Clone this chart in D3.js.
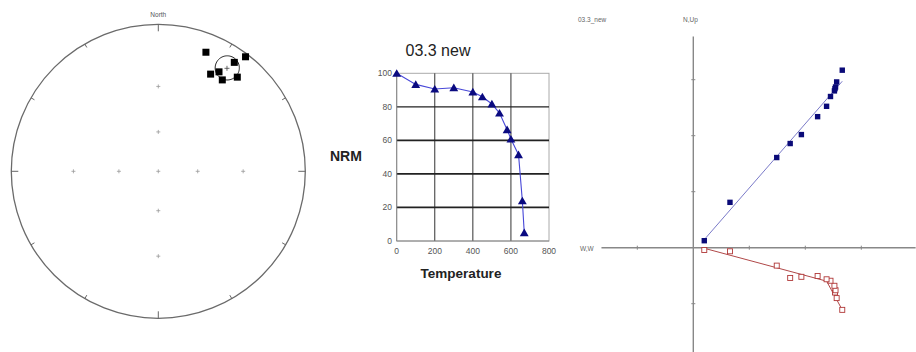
<!DOCTYPE html>
<html>
<head>
<meta charset="utf-8">
<script src="https://cdn.jsdelivr.net/npm/d3@7"></script>
<style>
  body { margin: 0; background: #fff; }
  svg { display: block; font-family: "Liberation Sans", Arial, sans-serif; }
</style>
</head>
<body>
<svg id="chart" width="916" height="352"></svg>
<script>
// stereonet: site directions (lower hemisphere, equal-angle)
var siteDec = [21.8, 37.3, 34.9, 28.3, 31.4, 35.0, 40.0];
var siteInc = [7.8, 1.2, 5.8, 16.2, 13.2, 15.6, 10.2];
var meanDec = 33.7, meanInc = 9.8, alpha95 = 5.5;

// demagnetisation steps
var steps = [0, 100, 200, 300, 400, 450, 500, 540, 580, 600, 640, 660, 670];
var nrm = [100, 93.4, 90.6, 91.4, 88.9, 86, 81.7, 76.3, 66.4, 60.8, 51.5, 24, 5];
var tempTicks = [0, 200, 400, 600, 800];
var nrmTicks = [0, 20, 40, 60, 80, 100];

// zijderveld components (same units as axis ticks)
var north = [2.66, 2.56, 2.53, 2.54, 2.52, 2.45, 2.38, 2.22, 1.93, 1.73, 1.49, 0.655, 0.196];
var up = [3.17, 2.96, 2.84, 2.87, 2.80, 2.70, 2.525, 2.34, 2.02, 1.86, 1.61, 0.81, 0.125];
var west = [1.11, 0.90, 0.80, 0.76, 0.68, 0.59, 0.564, 0.505, 0.52, 0.54, 0.32, 0.064, 0.041];
var zTicks = [-1, 1, 2, 3];

var svg = d3.select("#chart");
var rad = Math.PI / 180;

// ---------- stereonet ----------
var cx = 158.3, cy = 171.3, R = 147;
var rScale = d3.scaleLinear().domain([0, 1]).range([0, R]);

function proj(dec, inc) {
  var r = rScale(Math.tan((90 - inc) / 2 * rad));
  return [cx + r * Math.sin(dec * rad), cy - r * Math.cos(dec * rad)];
}

var net = svg.append("g");
net.append("circle")
  .attr("cx", cx).attr("cy", cy).attr("r", R)
  .attr("fill", "none").attr("stroke", "#6a6a6a").attr("stroke-width", 1.3);

d3.range(0, 360, 30).forEach(function (az) {
  var len = az % 90 == 0 ? 7 : 4;
  var a = proj(az, 0), b = [cx + (R - len) * Math.sin(az * rad), cy - (R - len) * Math.cos(az * rad)];
  net.append("line")
    .attr("x1", a[0]).attr("y1", a[1]).attr("x2", b[0]).attr("y2", b[1])
    .attr("stroke", "#666").attr("stroke-width", 1);
});

var crossPts = [[0, 90]];
[0, 90, 180, 270].forEach(function (az) { crossPts.push([az, 30]); crossPts.push([az, 60]); });
crossPts.forEach(function (d) {
  var p = proj(d[0], d[1]);
  net.append("path")
    .attr("d", "M" + (p[0] - 2) + "," + p[1] + "h4M" + p[0] + "," + (p[1] - 2) + "v4")
    .attr("stroke", "#999").attr("stroke-width", 0.8);
});

net.append("text")
  .attr("x", cx).attr("y", 17)
  .attr("text-anchor", "middle")
  .attr("font-size", 6.5).attr("fill", "#555")
  .text("North");

// alpha95 small circle around the mean
function toVec(dec, inc) {
  return [Math.cos(inc * rad) * Math.cos(dec * rad), Math.cos(inc * rad) * Math.sin(dec * rad), Math.sin(inc * rad)];
}
var m = toVec(meanDec, meanInc);
var u = [-Math.sin(meanInc * rad) * Math.cos(meanDec * rad), -Math.sin(meanInc * rad) * Math.sin(meanDec * rad), Math.cos(meanInc * rad)];
var v = [-Math.sin(meanDec * rad), Math.cos(meanDec * rad), 0];
var ring = d3.range(0, 361, 5).map(function (t) {
  var c = Math.cos(alpha95 * rad), s = Math.sin(alpha95 * rad);
  var p = [0, 1, 2].map(function (i) { return c * m[i] + s * (Math.cos(t * rad) * u[i] + Math.sin(t * rad) * v[i]); });
  var inc = Math.asin(p[2]) / rad, dec = Math.atan2(p[1], p[0]) / rad;
  return proj(dec, inc);
});
net.append("path")
  .attr("d", d3.line()(ring))
  .attr("fill", "none").attr("stroke", "#222").attr("stroke-width", 1);
var mp = proj(meanDec, meanInc);
net.append("path")
  .attr("d", "M" + (mp[0] - 2.5) + "," + mp[1] + "h5M" + mp[0] + "," + (mp[1] - 2.5) + "v5")
  .attr("stroke", "#444").attr("stroke-width", 0.8);

net.selectAll(".site")
  .data(siteDec.map(function (d, i) { return proj(d, siteInc[i]); }))
  .enter().append("rect")
  .attr("x", function (d) { return d[0] - 3.5; })
  .attr("y", function (d) { return d[1] - 3.5; })
  .attr("width", 7).attr("height", 7)
  .attr("fill", "#000");

// ---------- NRM decay ----------
var x = d3.scaleLinear().domain([0, 800]).range([396.7, 549]);
var y = d3.scaleLinear().domain([0, 100]).range([241, 73.3]);
var dg = svg.append("g");

dg.append("rect")
  .attr("x", x(0)).attr("y", y(100))
  .attr("width", x(800) - x(0)).attr("height", y(0) - y(100))
  .attr("fill", "none").attr("stroke", "#aaa").attr("stroke-width", 1);

[200, 400, 600].forEach(function (t) {
  dg.append("line")
    .attr("x1", x(t)).attr("x2", x(t)).attr("y1", y(0)).attr("y2", y(100))
    .attr("stroke", "#333").attr("stroke-width", 1);
});
[20, 40, 60, 80].forEach(function (n) {
  dg.append("line")
    .attr("x1", x(0)).attr("x2", x(800)).attr("y1", y(n)).attr("y2", y(n))
    .attr("stroke", "#222").attr("stroke-width", n == 80 ? 1.2 : 1.8);
});
dg.append("line")
  .attr("x1", x(0)).attr("x2", x(0)).attr("y1", y(0)).attr("y2", y(100))
  .attr("stroke", "#888");
dg.append("line")
  .attr("x1", x(0)).attr("x2", x(800)).attr("y1", y(0)).attr("y2", y(0))
  .attr("stroke", "#888");

dg.selectAll(".xt")
  .data(tempTicks)
  .enter().append("text")
  .attr("x", function (d) { return x(d); })
  .attr("y", 254)
  .attr("text-anchor", "middle")
  .attr("font-size", 8.5).attr("fill", "#555")
  .text(function (d) { return d; });

dg.selectAll(".yt")
  .data(nrmTicks)
  .enter().append("text")
  .attr("x", 392)
  .attr("y", function (d) { return y(d) + 3; })
  .attr("text-anchor", "end")
  .attr("font-size", 8.5).attr("fill", "#555")
  .text(function (d) { return d; });

dg.append("path")
  .attr("d", d3.line()
    .x(function (d, i) { return x(d); })
    .y(function (d, i) { return y(nrm[i]); })(steps))
  .attr("fill", "none").attr("stroke", "#4848d8").attr("stroke-width", 1.1);

dg.selectAll(".tri")
  .data(steps)
  .enter().append("path")
  .attr("transform", function (d, i) { return "translate(" + x(d) + "," + (y(nrm[i]) + 1) + ")"; })
  .attr("d", d3.symbol().type(d3.symbolTriangle).size(34))
  .attr("fill", "#0a0a80");

dg.append("text")
  .attr("x", 438).attr("y", 56)
  .attr("text-anchor", "middle")
  .attr("font-size", 16).attr("fill", "#222")
  .text("03.3 new");

dg.append("text")
  .attr("x", 330).attr("y", 161)
  .attr("font-size", 14).attr("font-weight", "bold").attr("fill", "#222")
  .text("NRM");

dg.append("text")
  .attr("x", 461).attr("y", 278)
  .attr("text-anchor", "middle")
  .attr("font-size", 13.5).attr("font-weight", "bold").attr("fill", "#222")
  .text("Temperature");

// ---------- Zijderveld ----------
var zx = d3.scaleLinear().domain([0, 1]).range([693.3, 749.3]);
var zy = d3.scaleLinear().domain([0, 1]).range([247.7, 191.7]);
var zg = svg.append("g");

zg.append("line")
  .attr("x1", zx(-1.64)).attr("x2", zx(3.97)).attr("y1", zy(0)).attr("y2", zy(0))
  .attr("stroke", "#888").attr("stroke-width", 1.4);
zg.append("line")
  .attr("x1", zx(0)).attr("x2", zx(0)).attr("y1", zy(3.77)).attr("y2", zy(-1.9))
  .attr("stroke", "#888").attr("stroke-width", 1.4);

zTicks.forEach(function (t) {
  zg.append("line")
    .attr("x1", zx(t)).attr("x2", zx(t)).attr("y1", zy(0) - 2).attr("y2", zy(0) + 2)
    .attr("stroke", "#888");
  zg.append("line")
    .attr("x1", zx(0) - 2).attr("x2", zx(0) + 2).attr("y1", zy(t)).attr("y2", zy(t))
    .attr("stroke", "#888");
});

zg.append("text").attr("x", 578).attr("y", 22).attr("font-size", 6.5).attr("fill", "#666").text("03.3_new");
zg.append("text").attr("x", 683).attr("y", 22).attr("font-size", 6.5).attr("fill", "#666").text("N,Up");
zg.append("text").attr("x", 580).attr("y", 251).attr("font-size", 6.5).attr("fill", "#666").text("W,W");

// least squares fit of up vs north
function fit(xs, ys) {
  var mx = d3.mean(xs), my = d3.mean(ys);
  var b = d3.sum(xs, function (d, i) { return (d - mx) * (ys[i] - my); }) / d3.sum(xs, function (d) { return (d - mx) * (d - mx); });
  return function (t) { return my + b * (t - mx); };
}
var fUp = fit(north, up);
var xEnds = [d3.min(north) + 0.02, d3.max(north)];
zg.append("path")
  .attr("d", d3.line().x(function (d) { return zx(d); }).y(function (d) { return zy(fUp(d)); })(xEnds))
  .attr("fill", "none").attr("stroke", "#7a7ac8").attr("stroke-width", 1);

// horizontal plane: fit of the high-temperature steps, then on to the first step
var hi = steps.map(function (d, i) { return i; }).filter(function (i) { return steps[i] >= 500; });
var fW = fit(hi.map(function (i) { return north[i]; }), hi.map(function (i) { return west[i]; }));
var kink = north[steps.indexOf(500)];
var redPath = [[d3.min(north) + 0.02, fW(d3.min(north) + 0.02)], [kink, fW(kink)], [north[0], west[0]]];
zg.append("path")
  .attr("d", d3.line().x(function (d) { return zx(d[0]); }).y(function (d) { return zy(-d[1]); })(redPath))
  .attr("fill", "none").attr("stroke", "#b04848").attr("stroke-width", 1);

zg.selectAll(".hz")
  .data(north)
  .enter().append("rect")
  .attr("x", function (d) { return zx(d) - 2.5; })
  .attr("y", function (d, i) { return zy(-west[i]) - 2.5; })
  .attr("width", 5).attr("height", 5)
  .attr("fill", "#fff").attr("stroke", "#b03838").attr("stroke-width", 0.9);

zg.selectAll(".vt")
  .data(north)
  .enter().append("rect")
  .attr("x", function (d) { return zx(d) - 2.7; })
  .attr("y", function (d, i) { return zy(up[i]) - 2.7; })
  .attr("width", 5.4).attr("height", 5.4)
  .attr("fill", "#0a0a78");
</script>
</body>
</html>
